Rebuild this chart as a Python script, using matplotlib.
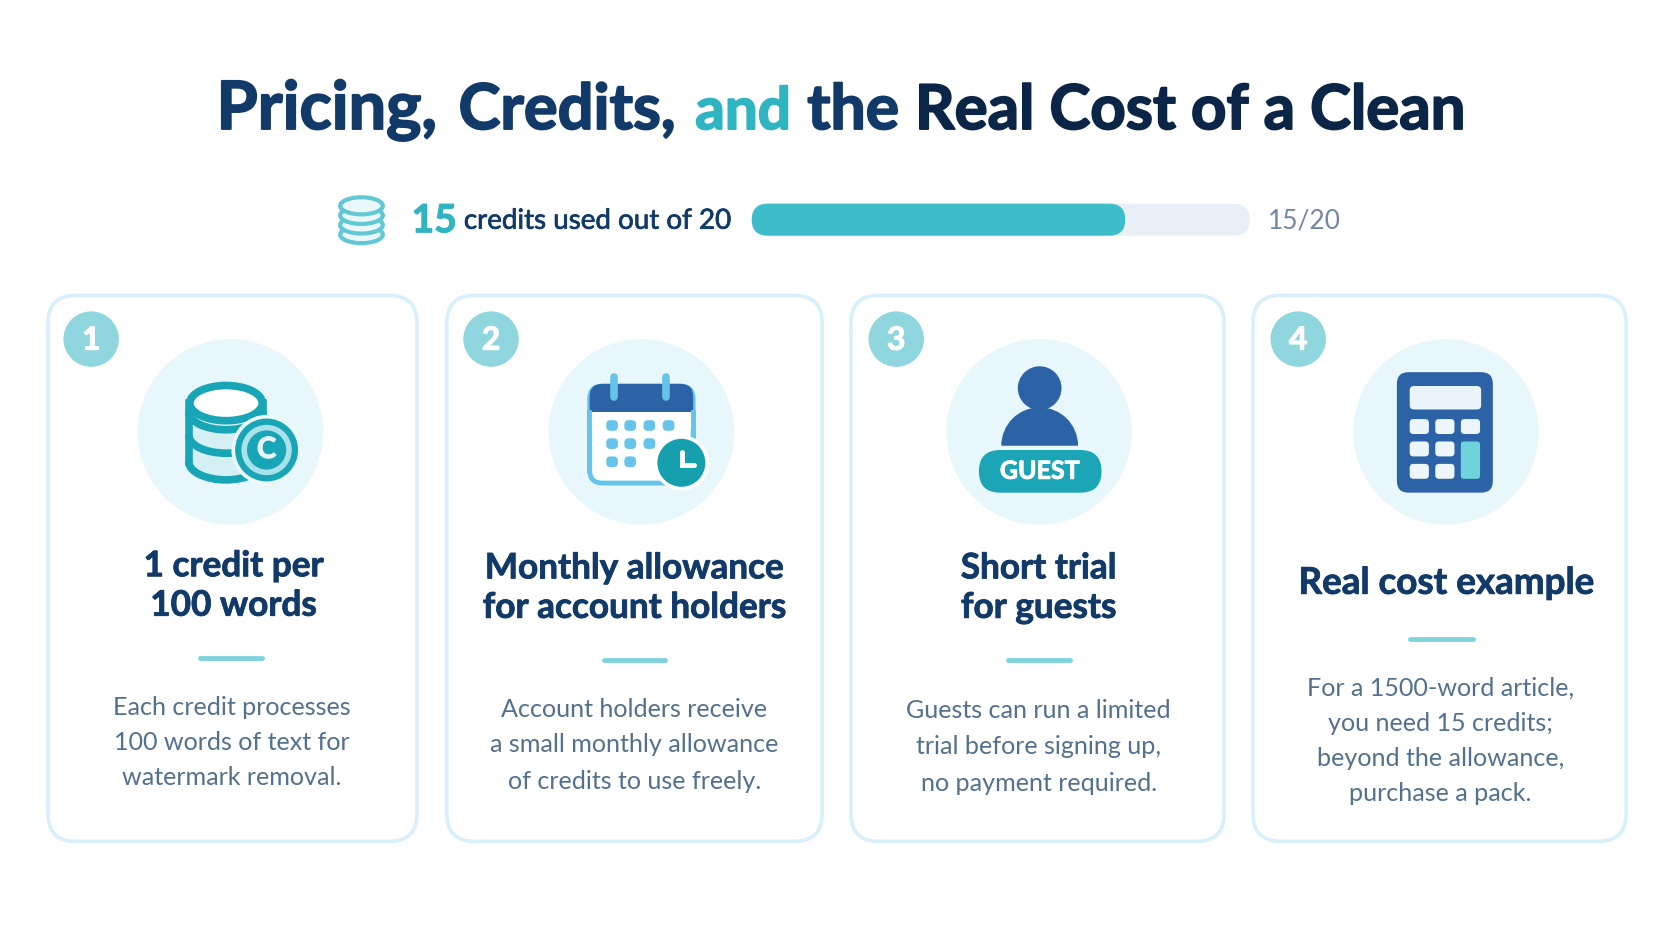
import matplotlib
matplotlib.use("Agg")
import matplotlib.pyplot as plt
import matplotlib.patheffects as pe
from matplotlib.patches import Arc, Circle, Ellipse, FancyBboxPatch, Wedge, Rectangle

plt.rcParams['font.family'] = ['Lato', 'DejaVu Sans']

NAVY = "#123a69"
DARK = "#0b2547"
TEAL = "#2fb4c2"
BODY = "#53708f"

credits_used = 15
credits_total = 20

title_parts = ["Pricing,", "Credits,", "and", "the", "Real Cost of a Clean"]
title_colors = [NAVY, NAVY, TEAL, NAVY, DARK]
title_x = [203, 430, 652, 757, 858]
title_size = [48, 45.5, 42, 45, 44.5]

card_left = [45, 419, 798, 1175]
card_right = [391, 771, 1148, 1525]
card_numbers = ["1", "2", "3", "4"]
card_titles = [["1 credit per", "100 words"],
               ["Monthly allowance", "for account holders"],
               ["Short trial", "for guests"],
               ["Real cost example"]]
card_bodies = [["Each credit processes", "100 words of text for", "watermark removal."],
               ["Account holders receive", "a small monthly allowance", "of credits to use freely."],
               ["Guests can run a limited", "trial before signing up,", "no payment required."],
               ["For a 1500-word article,", "you need 15 credits;", "beyond the allowance,", "purchase a pack."]]
badge_x = [85.5, 460.5, 840.5, 1217.5]
icon_x = [216, 601.5, 974.5, 1356]
text_x = [219, 595, 974, 1356]
body_x = [217, 595, 974, 1351]
title_y = [[531, 568], [533, 570], [533, 570], [547]]
title_fs = [25.3, 25.3, 25.3, 26.5]
rule_y = [617, 619, 619, 599]
body_y = [[663.5, 696.5, 729.5], [665.5, 698.5, 732.5], [666.5, 700.5, 734.5], [645.5, 678.5, 711.5, 744.5]]

fig = plt.figure(figsize=(16.72, 9.4), dpi=100)
ax = fig.add_axes([0, 0, 1, 1])
ax.set_xlim(0, 1568)
ax.set_ylim(881.5, 0)
ax.axis("off")


def rbox(x0, y0, x1, y1, r, fc, ec="none", lw=0, z=2):
    p = FancyBboxPatch((x0 + r, y0 + r), x1 - x0 - 2 * r, y1 - y0 - 2 * r,
                       boxstyle="round,pad=%f,rounding_size=%f" % (r, r),
                       fc=fc, ec=ec, lw=lw, zorder=z)
    ax.add_patch(p)
    return p


def heavy(t, col, w=0.9):
    # lato bold is a bit thin next to the reference, fatten it
    t.set_path_effects([pe.withStroke(linewidth=w, foreground=col)])


# title
for part, col, xx, fs in zip(title_parts, title_colors, title_x, title_size):
    t = ax.text(xx, 121, part, fontsize=fs, fontweight="bold", color=col,
                ha="left", va="baseline", zorder=5)
    heavy(t, col, 1.3)

# progress row
for yy in [220, 211, 202]:
    ax.add_patch(Ellipse((339, yy), 40, 16, fc="#eaf8fa", ec="#62c8d3", lw=3, zorder=3))
ax.add_patch(Ellipse((339, 193), 40, 16, fc="#eaf8fa", ec="#62c8d3", lw=3, zorder=3))

t = ax.text(386, 207, str(credits_used), fontsize=28, fontweight="bold", color=TEAL, va="center", zorder=5)
heavy(t, TEAL, 0.8)
t = ax.text(435, 207, "credits used out of %d" % credits_total, fontsize=20, color=NAVY, va="center", zorder=5)
heavy(t, NAVY, 0.5)
bar_x0, bar_x1 = 705, 1172
rbox(bar_x0, 191, bar_x1, 221, 15, "#e9eff7")
rbox(bar_x0, 191, bar_x0 + (bar_x1 - bar_x0) * credits_used / credits_total, 221, 15, "#3dbcc9", z=3)
ax.text(1189, 207, "%d/%d" % (credits_used, credits_total), fontsize=19, color="#7486a3", va="center", zorder=5)

# cards
for i in range(4):
    rbox(card_left[i], 277, card_right[i], 789, 26, "white", ec="#d8f0fb", lw=2.6, z=1)
    ax.add_patch(Circle((badge_x[i], 318), 26, fc="#8fd6de", ec="none", zorder=3))
    t = ax.text(badge_x[i], 319, card_numbers[i], fontsize=23, fontweight="bold", color="white",
                ha="center", va="center", zorder=5)
    heavy(t, "white", 0.8)
    ax.add_patch(Circle((icon_x[i], 405), 87, fc="#e8f7fc", ec="none", zorder=2))
    for line, yy in zip(card_titles[i], title_y[i]):
        t = ax.text(text_x[i], yy, line, fontsize=title_fs[i], fontweight="bold", color=NAVY,
                    ha="center", va="center", zorder=5)
        heavy(t, NAVY, 0.6)
    ax.plot([body_x[i] - 29, body_x[i] + 29] if i != 3 else [1322, 1381], [rule_y[i], rule_y[i]],
            color="#7fd3dc", lw=3.5, solid_capstyle="round", zorder=4)
    for line, yy in zip(card_bodies[i], body_y[i]):
        ax.text(body_x[i], yy, line, fontsize=18.1, color=BODY, ha="center", va="center", zorder=5)

# coins icon
STACK = "#18a5b5"
ax.add_patch(Rectangle((178, 378), 68, 55, fc="#d5f0f5", ec="none", zorder=3))
ax.add_patch(Ellipse((212, 433), 68, 34, fc="#d5f0f5", ec="none", zorder=3))
for yy in [386, 408, 433]:
    ax.add_patch(Arc((212, yy), 70, 34, theta1=0, theta2=180, color=STACK, lw=5.5, zorder=4))
ax.plot([177, 177], [378, 433], color=STACK, lw=5.5, zorder=4)
ax.plot([247, 247], [378, 400], color=STACK, lw=5.5, zorder=4)
ax.add_patch(Ellipse((212, 378), 68, 33, fc="white", ec=STACK, lw=5.5, zorder=4))
ax.add_patch(Circle((250, 422), 33, fc="#eaf8fb", ec="none", zorder=5))
ax.add_patch(Circle((250, 422), 29.5, fc=STACK, ec="none", zorder=5))
ax.add_patch(Circle((250, 422), 21, fc="none", ec="#a9e2ea", lw=4, zorder=6))
t = ax.text(250, 422, "C", fontsize=21, fontweight="bold", color="#e6f8fb", ha="center", va="center", zorder=7)
heavy(t, "#e6f8fb", 0.8)

# calendar icon
BLUE = "#2c62a6"
SKY = "#66c4ea"
rbox(553, 362, 650, 453, 12, "white", ec=SKY, lw=3.5, z=3)
rbox(553, 360, 650, 400, 12, BLUE, z=4)
ax.add_patch(Rectangle((552, 386), 99, 16, fc="white", ec="none", zorder=4))
ax.plot([552, 552], [386, 441], color=SKY, lw=3.5, zorder=4)
ax.plot([650, 650], [386, 420], color=SKY, lw=3.5, zorder=4)
for px in [576, 625]:
    ax.plot([px, px], [354, 372], color=SKY, lw=5.5, solid_capstyle="round", zorder=5)
for rx, ry in [(574, 399), (591, 399), (609, 399), (627, 399),
               (574, 416), (591, 416), (609, 416),
               (574, 433), (591, 433)]:
    rbox(rx - 5.5, ry - 5, rx + 5.5, ry + 5, 4, SKY, z=5)
ax.add_patch(Circle((639, 434), 26, fc="white", ec="none", zorder=5))
ax.add_patch(Circle((639, 434), 22.5, fc="#16a0ae", ec="none", zorder=6))
ax.plot([640, 640, 651], [424, 436, 436], color="white", lw=3.5, zorder=7,
        solid_capstyle="round", solid_joinstyle="miter")

# guest icon
ax.add_patch(Ellipse((975, 364), 41, 41, fc=BLUE, ec="none", zorder=3))
ax.add_patch(Wedge((975, 418), 36, 180, 360, fc=BLUE, ec="none", zorder=3))
rbox(918, 422, 1033, 462, 20, "#1ba5b6", z=4)
t = ax.text(975, 442, "GUEST", fontsize=18, fontweight="bold", color="white", ha="center", va="center", zorder=5)
heavy(t, "white", 0.6)

# calculator icon
rbox(1310, 349, 1400, 462, 11, BLUE, z=3)
rbox(1322, 362, 1389, 384, 4, "#e9f5fb", z=4)
for cx, cy in [(1331, 400), (1355, 400), (1379, 400),
               (1331, 421), (1355, 421),
               (1331, 442), (1355, 442)]:
    rbox(cx - 9, cy - 7, cx + 9, cy + 7, 3.5, "#edf6fb", z=4)
rbox(1370, 414, 1388, 449, 3, "#6fd3dc", z=4)

fig.savefig("out.png", dpi=100)
